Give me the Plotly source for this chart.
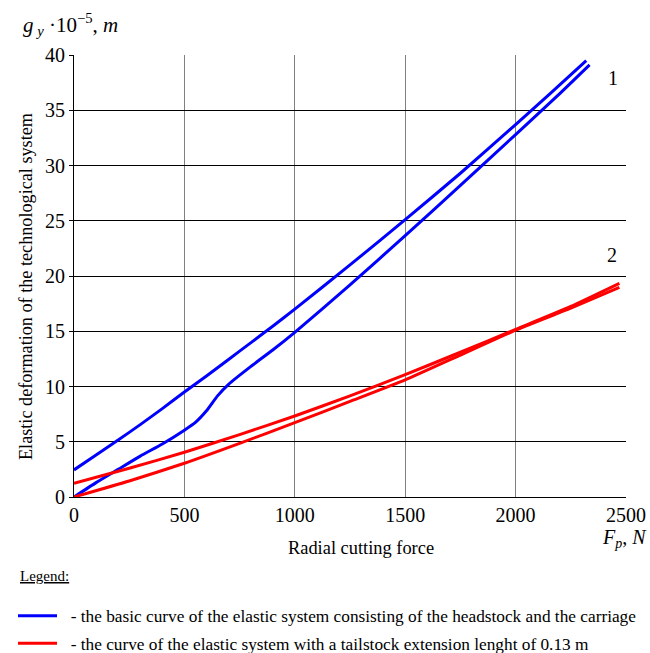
import plotly.graph_objects as go

# Curve 1 (blue): two branches
blue_a_x = [0, 100, 200, 300, 400, 500, 600, 700, 800, 900, 1000, 1250, 1500, 1750, 2000, 2150, 2320]
blue_a_y = [2.45, 3.8, 5.15, 6.55, 8.0, 9.5, 10.95, 12.45, 13.95, 15.45, 17.0, 21.0, 25.1, 29.3, 33.7, 36.4, 39.5]
blue_b_x = [0, 100, 200, 300, 400, 500, 550, 600, 650, 700, 800, 900, 1000, 1250, 1500, 1750, 2000, 2200, 2335]
blue_b_y = [0, 1.3, 2.5, 3.7, 4.8, 6.05, 6.75, 7.8, 9.15, 10.2, 11.8, 13.3, 14.9, 19.2, 23.65, 28.2, 32.8, 36.5, 39.1]

# Curve 2 (red): two branches
red_a_x = [0, 250, 500, 750, 1000, 1250, 1500, 1750, 2000, 2250, 2470]
red_a_y = [1.24, 2.6, 4.05, 5.65, 7.33, 9.15, 11.07, 13.1, 15.17, 17.25, 19.34]
red_b_x = [0, 250, 500, 750, 1000, 1250, 1500, 1750, 2000, 2250, 2470]
red_b_y = [0, 1.45, 3.05, 4.85, 6.73, 8.65, 10.6, 12.85, 15.1, 17.1, 18.98]

x_ticks = [0, 500, 1000, 1500, 2000, 2500]
y_ticks = [0, 5, 10, 15, 20, 25, 30, 35, 40]

legend_blue = "\u00a0\u00a0- the basic curve of the elastic system consisting of the headstock and the carriage"
legend_red = "\u00a0\u00a0- the curve of the elastic system with a tailstock extension lenght of 0.13 m"

FONT = "Liberation Serif"

fig = go.Figure()
fig.add_trace(go.Scatter(
    x=blue_a_x + [None] + blue_b_x, y=blue_a_y + [None] + blue_b_y,
    mode="lines", line=dict(color="#0000FF", width=3, shape="spline", smoothing=0.5),
    name=legend_blue, connectgaps=False, legendgroup="b"))
fig.add_trace(go.Scatter(
    x=red_a_x + [None] + red_b_x, y=red_a_y + [None] + red_b_y,
    mode="lines", line=dict(color="#FF0000", width=3, shape="spline", smoothing=0.5),
    name=legend_red, connectgaps=False, legendgroup="r"))

W, H = 650, 653
L, T = 74, 55
pw, ph = 552, 442
R, B = W - L - pw, H - T - ph


def px(xs):
    return (xs - L) / pw


def py(ys):
    return (T + ph - ys) / ph


fig.update_layout(
    width=W, height=H,
    margin=dict(l=L, r=R, t=T, b=B, pad=0, autoexpand=False),
    paper_bgcolor="white", plot_bgcolor="white",
    font=dict(family=FONT, color="black"),
    showlegend=True,
    legend=dict(x=px(13), y=py(598), xanchor="left", yanchor="top",
                font=dict(family=FONT, size=17.3, color="black"),
                bgcolor="rgba(0,0,0,0)", tracegroupgap=2, itemwidth=39),
    xaxis=dict(range=[0, 2500], tickvals=x_ticks, ticktext=[str(v) for v in x_ticks],
               showgrid=True, gridcolor="#808080", gridwidth=1,
               showline=True, linecolor="black", linewidth=1,
               zeroline=False, ticks="", tickfont=dict(family=FONT, size=20),
               automargin=False, fixedrange=True),
    yaxis=dict(range=[0, 40], tickvals=y_ticks, ticktext=[str(v) for v in y_ticks],
               showgrid=True, gridcolor="black", gridwidth=1,
               showline=True, linecolor="black", linewidth=1,
               zeroline=False, ticks="outside", ticklen=4, tickcolor="black",
               tickfont=dict(family=FONT, size=20),
               automargin=False, fixedrange=True),
)

ann = [
    dict(text="Radial cutting force", x=px(361), y=py(548), xanchor="center", yanchor="middle",
         font=dict(size=18.4)),
    dict(text="Elastic deformation of the technological system", x=px(26), y=py(287),
         xanchor="center", yanchor="middle", textangle=-90, font=dict(size=18.2)),
    dict(text="<i>g</i><sub> <i>y</i></sub> ·10<sup>−5</sup>, <i>m</i>", x=px(21), y=py(24),
         xanchor="left", yanchor="middle", font=dict(size=21)),
    dict(text="<i>F</i><sub><i>p</i></sub>, <i>N</i>", x=px(600), y=py(538),
         xanchor="left", yanchor="middle", font=dict(size=20)),
    dict(text="1", x=px(613), y=py(78), xanchor="center", yanchor="middle", font=dict(size=20)),
    dict(text="2", x=px(612), y=py(255), xanchor="center", yanchor="middle", font=dict(size=20)),
    dict(text="<u>Legend:</u>", x=px(18), y=py(576), xanchor="left", yanchor="middle",
         font=dict(size=15)),
]
for a in ann:
    a.update(xref="paper", yref="paper", showarrow=False)
    a["font"] = dict(family=FONT, color="black", **a["font"])
    fig.add_annotation(**a)

# remove the default page margin so the 650x653 figure fills the window exactly
fig.write_html(
    "out.html",
    config={"displayModeBar": False},
    post_script="document.documentElement.style.overflow='hidden';"
                "document.body.style.margin='0';document.body.style.overflow='hidden';",
)
